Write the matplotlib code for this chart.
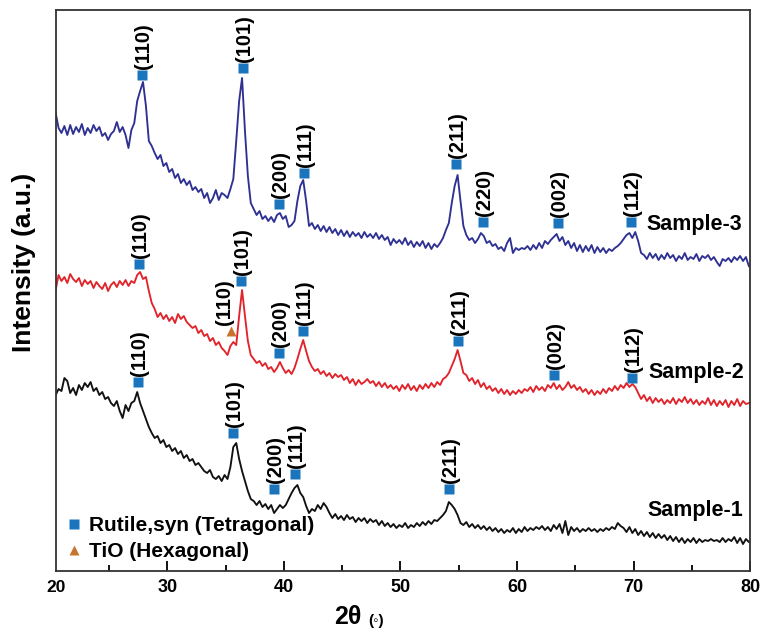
import matplotlib
matplotlib.use("Agg")
import matplotlib.pyplot as plt
from matplotlib.lines import Line2D
import numpy as np

plt.rcParams['font.family'] = ['Liberation Sans', 'DejaVu Sans']
plt.rcParams['font.weight'] = 'bold'

# 2-theta scan grid (deg), 0.25 step
two_theta = np.arange(240) * 0.25 + 20.4

# intensities (a.u.), already stacked with vertical offsets
sample_3 = [
    458, 443, 438, 445, 436, 446, 437, 444, 439, 447, 436, 443, 438, 446, 440, 444,
    435, 438, 431, 437, 440, 449, 439, 444, 436, 423, 441, 448, 470, 480, 489, 465,
    430, 425, 418, 412, 416, 405, 408, 399, 402, 393, 397, 388, 392, 386, 390, 381,
    384, 379, 382, 373, 378, 368, 373, 381, 371, 378, 376, 373, 382, 392, 430, 470,
    493, 440, 395, 368, 362, 356, 360, 352, 355, 350, 354, 349, 356, 358, 352, 355,
    344, 346, 350, 370, 385, 391, 370, 345, 348, 342, 346, 340, 345, 339, 344, 338,
    342, 336, 341, 335, 340, 334, 339, 335, 338, 333, 339, 334, 337, 333, 338, 332,
    336, 331, 334, 326, 332, 328, 331, 327, 333, 326, 330, 324, 329, 325, 330, 323,
    328, 322, 327, 324, 328, 333, 341, 348, 368, 385, 396, 370, 345, 336, 331, 333,
    328, 332, 338, 335, 328, 330, 325, 327, 322, 324, 320, 328, 333, 318, 323, 321,
    323, 322, 325, 321, 326, 322, 328, 323, 330, 327, 331, 334, 337, 330, 334, 326,
    330, 323, 328, 320, 326, 319, 325, 320, 326, 318, 324, 319, 323, 318, 322, 320,
    323, 325, 328, 332, 336, 338, 333, 339, 330, 318, 316, 312, 318, 313, 317, 311,
    316, 312, 318, 313, 316, 310, 315, 312, 318, 311, 314, 312, 317, 310, 315, 313,
    316, 311, 314, 309, 305, 312, 310, 313, 309, 314, 311, 315, 310, 314, 305, 302,
]
sample_2 = [
    281, 296, 290, 294, 288, 297, 292, 289, 293, 285, 291, 287, 290, 283, 289, 285,
    282, 288, 280, 286, 289, 284, 290, 286, 291, 285, 290, 288, 296, 299, 292, 294,
    280, 268, 262, 254, 258, 252, 256, 250, 254, 248, 257, 252, 255, 249, 246, 243,
    245, 238, 241, 235, 237, 230, 233, 226, 229, 223, 220, 216, 225, 229, 226, 255,
    281, 255, 230, 216, 212, 208, 210, 205, 208, 202, 204, 199, 203, 209, 203, 198,
    201, 197, 203, 212, 222, 231, 220, 210, 204, 200, 202, 197, 200, 195, 198, 193,
    197, 194, 196, 191, 194, 188, 192, 186, 191, 187, 189, 192, 188, 190, 185, 189,
    184, 188, 183, 186, 182, 185, 180, 186, 182, 187, 181, 185, 180, 186, 182, 187,
    183, 188, 184, 189, 186, 192, 194, 198, 205, 212, 221, 210, 198, 196, 190, 193,
    187, 191, 184, 188, 182, 185, 180, 183, 178, 182, 177, 181, 176, 180, 177, 181,
    178, 182, 180, 184, 179, 185, 181, 184, 180, 186, 183, 188, 182, 186, 181, 184,
    189, 183, 186, 181, 184, 179, 182, 177, 181, 176, 180, 177, 182, 178, 183, 180,
    185, 181, 186, 183, 188, 184, 187, 184, 178, 172, 176, 170, 174, 168, 173, 169,
    172, 167, 171, 168, 173, 167, 172, 169, 174, 168, 172, 167, 171, 166, 170, 167,
    173, 166, 171, 165, 170, 166, 171, 164, 170, 166, 172, 165, 170, 167, 168, 168,
]
sample_1 = [
    176, 182, 180, 193, 190, 178, 183, 176, 186, 181, 188, 184, 189, 180, 183, 176,
    179, 172, 174, 168, 165, 170, 160, 153, 166, 160, 168, 170, 179, 168, 160, 152,
    144, 138, 133, 135, 128, 131, 124, 126, 120, 123, 117, 120, 113, 116, 110, 112,
    106, 108, 104, 100, 98, 101, 94, 92, 95, 90, 96, 92, 104, 124, 128, 112,
    100, 90, 80, 72, 70, 66, 70, 64, 67, 62, 66, 58, 62, 66, 63, 66,
    72, 78, 83, 86, 78, 74, 65, 58, 62, 60, 66, 62, 68, 64, 58, 53,
    57, 52, 55, 51, 56, 52, 54, 49, 53, 50, 53, 48, 52, 49, 51, 46,
    50, 45, 48, 44, 47, 43, 46, 44, 48, 43, 46, 44, 48, 45, 49, 46,
    50, 47, 51, 50, 53, 56, 60, 69, 66, 62, 56, 48, 46, 49, 44, 47,
    43, 46, 42, 45, 41, 44, 40, 43, 39, 42, 38, 41, 39, 43, 38, 42,
    39, 44, 40, 43, 41, 44, 42, 45, 41, 44, 40, 46, 42, 47, 38, 50,
    36, 44, 40, 43, 39, 42, 40, 43, 40, 42, 39, 42, 40, 43, 41, 44,
    42, 48, 45, 43, 39, 44, 38, 42, 36, 40, 35, 39, 34, 38, 33, 37,
    33, 36, 31, 35, 30, 34, 29, 33, 28, 32, 29, 33, 28, 32, 29, 31,
    30, 32, 30, 31, 29, 33, 29, 32, 30, 34, 28, 33, 27, 32, 29, 29,
]

# rutile reflections: (label, 2theta, marker height) per sample
rutile_3 = [("(110)", 27.81, 496), ("(101)", 36.48, 503), ("(200)", 39.57, 367),
            ("(111)", 41.72, 398), ("(211)", 54.76, 407), ("(220)", 57.08, 349),
            ("(002)", 63.52, 348), ("(112)", 69.79, 349)]
rutile_2 = [("(110)", 27.55, 307), ("(101)", 36.31, 290), ("(200)", 39.57, 218),
            ("(111)", 41.63, 240), ("(211)", 54.94, 230), ("(002)", 63.18, 196),
            ("(112)", 69.87, 193)]
rutile_1 = [("(110)", 27.47, 189), ("(101)", 35.62, 138), ("(200)", 39.14, 82),
            ("(111)", 40.94, 97), ("(211)", 54.16, 82)]
tio_2 = [("(110)", 35.45, 240)]

sample_names = ["Sample-3", "Sample-2", "Sample-1"]
name_pos = [(71.1, 347), (71.3, 199), (71.2, 61)]

line_colors = ["#2e3192", "#e1242b", "#111111"]
sq_color = "#1b75bc"
tri_color = "#c8742f"

fig = plt.figure(figsize=(7.65, 6.33), dpi=100)
ax = fig.add_axes([0.0732, 0.0979, 0.9072, 0.8863])

for ys, c in zip([sample_3, sample_2, sample_1], line_colors):
    ax.plot(two_theta, ys, color=c, lw=1.35)

for peaks in [rutile_3, rutile_2, rutile_1]:
    for lab, x, y in peaks:
        ax.plot(x, y, 's', color=sq_color, ms=6.5, mec='none')
        ax.annotate(lab, (x, y), xytext=(1, 4), textcoords='offset points',
                    rotation=90, ha='center', va='bottom', fontsize=14.5, fontweight='bold')

for lab, x, y in tio_2:
    ax.plot(x, y, '^', color=tri_color, ms=7, mec='none')
    ax.annotate(lab, (x, y), xytext=(-5, 4), textcoords='offset points',
                rotation=90, ha='center', va='bottom', fontsize=14.5, fontweight='bold')

for name, (x, y) in zip(sample_names, name_pos):
    ax.text(x, y, name, ha='left', va='center', fontsize=15.5, fontweight='bold')

handles = [Line2D([], [], marker='s', color=sq_color, ls='none', ms=6.5, mec='none'),
           Line2D([], [], marker='^', color=tri_color, ls='none', ms=7, mec='none')]
leg = ax.legend(handles, ["Rutile,syn (Tetragonal)", "TiO (Hexagonal)"],
                loc='lower left', bbox_to_anchor=(-0.008, -0.009), frameon=False,
                handlelength=0.9, handletextpad=0.25, labelspacing=0.34,
                borderaxespad=0.3, prop={'size': 15, 'weight': 'bold'})

ax.set_xlim(20.43, 80)
ax.set_ylim(0, 561)
ax.set_xticks([30, 40, 50, 60, 70, 80])
ax.set_xticks([25, 35, 45, 55, 65, 75], minor=True)
ax.set_yticks([])
ax.tick_params(axis='x', which='major', direction='in', length=7, width=1.3,
               labelsize=13, pad=6)
ax.tick_params(axis='x', which='minor', direction='in', length=4, width=1.3)
for lab in ax.get_xticklabels():
    lab.set_fontweight('bold')
for sp in ax.spines.values():
    sp.set_linewidth(1.3)
    sp.set_color('#333333')

ax.text(0.0, -0.016, "20", transform=ax.transAxes, ha='center', va='top',
        fontsize=12.5, fontweight='bold')

fig.text(0.031, 1 - 352 / 633, "Intensity (a.u.)", rotation=90, ha='center',
         va='bottom', fontsize=19, fontweight='bold')
fig.text(334 / 765, 1 - 617 / 633, "2θ", ha='left', va='center', fontsize=18,
         fontweight='bold')
fig.text(368 / 765, 1 - 621 / 633, "(◦)", ha='left', va='center', fontsize=11,
         fontweight='bold')

fig.savefig("out.png", dpi=100)
